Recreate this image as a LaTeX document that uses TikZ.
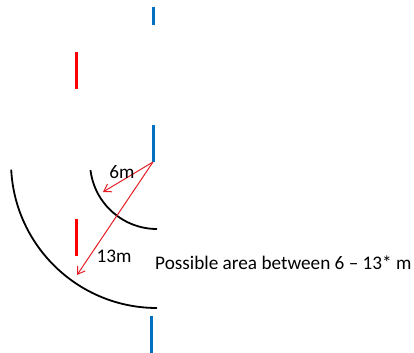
\documentclass[tikz,border=0pt]{standalone}
\usepackage{fontspec}
\setmainfont{Carlito}
\usetikzlibrary{arrows.meta}
\definecolor{postblue}{RGB}{0,112,192}
\definecolor{postred}{RGB}{255,0,0}
\definecolor{arrowred}{RGB}{228,30,36}

\begin{document}
\begin{tikzpicture}[x=1bp,y=1bp,>={Straight Barb[length=7bp,width=9bp]},
    post/.style={line width=3bp},
    ring/.style={line width=1.8bp},
    dist/.style={draw=arrowred,line width=1bp,->},
    lbl/.style={font=\fontsize{19.3}{21}\selectfont,inner sep=0pt}]
            \useasboundingbox (0,0) rectangle (414,353);
            % blue and red posts
            \draw [post,postblue] (153,346) -- (153,328);
            \draw [post,postblue] (153,228) -- (153,191);
            \draw [post,postblue] (151,37) -- (151,0);
            \draw [post,postred] (76,301) -- (76,264);
            \draw [post,postred] (76,134) -- (76,97);
            % rings
            \coordinate (c) at (157,191);
            \draw [ring] (c) ++(187:67) arc [start angle=187,end angle=270,radius=67];
            \draw [ring] (c) ++(183:146) arc [start angle=183,end angle=270,radius=146];
            % distances
            \coordinate (src) at (153,191);
            \coordinate (near) at (103,161);
            \coordinate (far) at (77,78);
            \draw [dist] (src) -- (near);
            \draw [dist] (src) -- (far);
            \node [lbl] (lsix) at (122,181) {6m};
            \node [lbl] (lthirteen) at (114,97) {13m};
            \node [lbl,anchor=west] (larea) at (155,90) {Possible area between 6 – 13* m};
        \end{tikzpicture}
\end{document}
